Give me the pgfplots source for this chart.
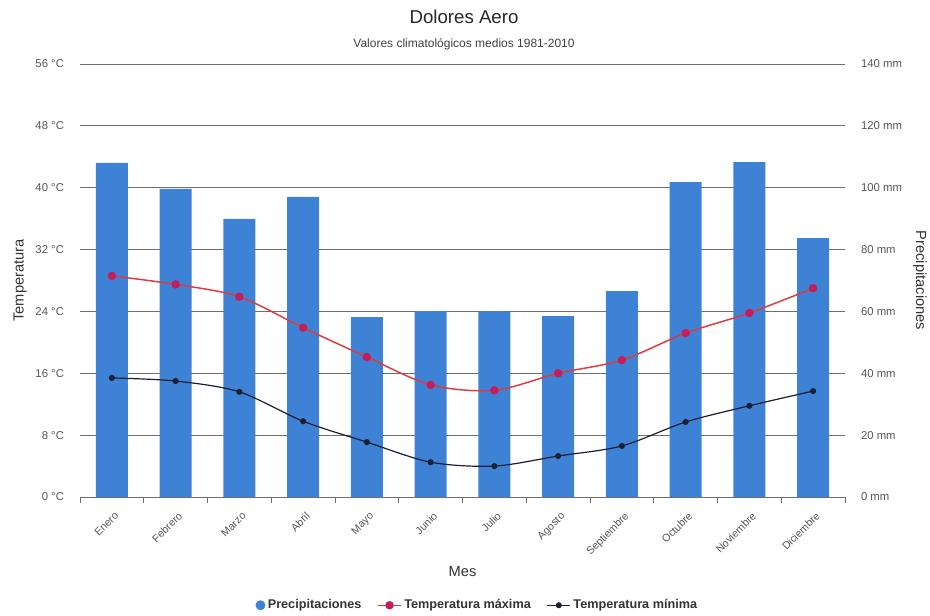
\documentclass[border=0pt]{standalone}
\usepackage{pgfplots}
\pgfplotsset{compat=1.18}
\usepackage{fontspec}
\setmainfont{Liberation Sans}
\definecolor{barblue}{HTML}{3E82D6}
\definecolor{maxred}{HTML}{E0393E}
\definecolor{markred}{HTML}{C41E5A}
\definecolor{mincol}{HTML}{1A1F33}
\definecolor{gridc}{HTML}{6E6E6E}
\definecolor{txt}{HTML}{555555}
\begin{document}
\begin{tikzpicture}
\useasboundingbox (-60pt,-88.5pt) rectangle (637.5pt,372.75pt);
\pgfplotsset{
  common/.style={
    scale only axis, width=573.75pt, height=324.75pt,
    at={(0pt,0pt)}, anchor=south west,
    xmin=-0.5, xmax=11.5,
    tick align=outside, major tick length=4.5pt,
    tick label style={font=\fontsize{8.5}{10}\selectfont, text=txt},
  }
}
% precipitation axis (bars, grid)
\begin{axis}[common,
  ymin=0, ymax=140,
  axis x line*=bottom, axis y line*=right,
  y axis line style={draw=none},
  x axis line style={draw=gridc, line width=0.7pt},
  xtick={-0.5,0.5,...,11.5}, xticklabels={},
  xtick style={draw=gridc, line width=0.7pt},
  ytick={0,20,...,140},
  yticklabels={0 mm,20 mm,40 mm,60 mm,80 mm,100 mm,120 mm,140 mm},
  ytick style={draw=none},
  yticklabel style={xshift=4pt},
  ymajorgrids, grid style={draw=gridc, line width=0.7pt},
]
\addplot[ybar, bar width=24pt, fill=barblue, draw=none] coordinates {
(0,108.0) (1,99.6) (2,89.9) (3,97.0) (4,58.2) (5,60.1)
(6,60.0) (7,58.5) (8,66.6) (9,101.8) (10,108.3) (11,83.7)};
\end{axis}
% temperature axis (lines)
\begin{axis}[common,
  ymin=0, ymax=56,
  axis x line*=bottom, axis y line*=left,
  axis line style={draw=none},
  xtick={0,...,11},
  xticklabels={Enero,Febrero,Marzo,Abril,Mayo,Junio,Julio,Agosto,Septiembre,Octubre,Noviembre,Diciembre},
  xtick style={draw=none},
  xticklabel style={rotate=45, anchor=north east, yshift=-2pt, font=\fontsize{8}{9}\selectfont},
  ytick={0,8,...,56},
  yticklabels={0 °C,8 °C,16 °C,24 °C,32 °C,40 °C,48 °C,56 °C},
  ytick style={draw=none},
  yticklabel style={xshift=-4pt},
  legend columns=3,
  legend style={at={(rel axis cs:0.52,-0.25)}, anchor=center, draw=none, fill=none,
    font=\fontsize{9.5}{11}\bfseries\selectfont, text=black!80,
    /tikz/every even column/.append style={column sep=10pt}},
  legend cell align=left,
]
\addlegendimage{only marks, mark=*, mark size=3.5pt, barblue}
\addlegendentry{Precipitaciones}
\addplot[smooth, tension=0.5, maxred, line width=1.1pt, mark=*, mark size=2.6pt,
  mark options={fill=markred, draw=markred}] coordinates {
(0,28.6) (1,27.5) (2,25.9) (3,21.9) (4,18.1) (5,14.5)
(6,13.8) (7,16.0) (8,17.7) (9,21.2) (10,23.8) (11,27.0)};
\addlegendentry{Temperatura máxima}
\addplot[smooth, tension=0.5, mincol, line width=0.9pt, mark=*, mark size=1.8pt,
  mark options={fill=mincol, draw=mincol}] coordinates {
(0,15.4) (1,15.0) (2,13.6) (3,9.8) (4,7.1) (5,4.5)
(6,4.0) (7,5.3) (8,6.6) (9,9.7) (10,11.8) (11,13.7)};
\addlegendentry{Temperatura mínima}
\end{axis}
\node[font=\fontsize{14}{16}\selectfont, text=black!85] at (288pt,360pt) {Dolores Aero};
\node[font=\fontsize{9}{11}\selectfont, text=black!75] at (288pt,339.5pt) {Valores climatológicos medios 1981-2010};
\node[font=\fontsize{11}{13}\selectfont, text=black!80] at (286.9pt,-56pt) {Mes};
\node[font=\fontsize{11}{13}\selectfont, text=black!80, rotate=90] at (-45pt,162.4pt) {Temperatura};
\node[font=\fontsize{11}{13}\selectfont, text=black!80, rotate=-90] at (630pt,162.4pt) {Precipitaciones};
\end{tikzpicture}
\end{document}
